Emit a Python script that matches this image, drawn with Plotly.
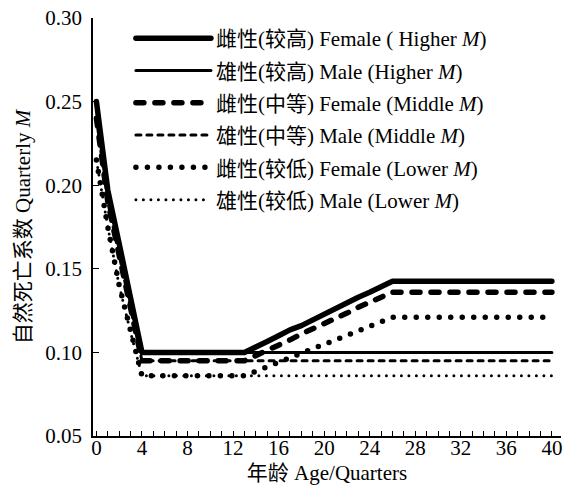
import plotly.graph_objects as go

# ---- data ----
ages_fh = [0, 1, 2, 3, 4, 13, 14, 15, 16, 17, 18, 19, 20, 21, 22, 23, 24, 25, 26, 40]
female_higher = [0.250, 0.197, 0.165, 0.132, 0.100, 0.100, 0.103, 0.1065, 0.110, 0.1135,
                 0.116, 0.1195, 0.123, 0.126, 0.1295, 0.133, 0.136, 0.139, 0.1425, 0.1425]

ages_mh = [0, 1, 2, 3, 4, 40]
male_higher = [0.250, 0.197, 0.165, 0.132, 0.100, 0.100]

ages_fm = [0, 1, 2, 3, 4, 13, 14, 15, 16, 17, 18, 19, 20, 21, 22, 23, 24, 25, 26, 40]
female_middle = [0.240, 0.190, 0.158, 0.127, 0.095, 0.095, 0.098, 0.101, 0.1045, 0.1075,
                 0.111, 0.114, 0.117, 0.1205, 0.1235, 0.127, 0.130, 0.133, 0.136, 0.136]

ages_mm = [0, 1, 2, 3, 4, 40]
male_middle = [0.240, 0.190, 0.158, 0.127, 0.095, 0.095]

ages_fl = [0, 1, 2, 3, 4, 13, 14, 15, 16, 17, 18, 19, 20, 21, 22, 23, 24, 25, 26, 40]
female_lower = [0.215, 0.175, 0.140, 0.112, 0.086, 0.086, 0.0887, 0.0914, 0.0941, 0.0968,
                0.0995, 0.1022, 0.1049, 0.1076, 0.1103, 0.113, 0.1157, 0.1184, 0.121, 0.121]

ages_ml = [0, 1, 2, 3, 4, 40]
male_lower = [0.215, 0.175, 0.140, 0.112, 0.086, 0.086]

names = [
    "雌性(较高) Female ( Higher <i>M</i>)",
    "雄性(较高) Male (Higher <i>M</i>)",
    "雌性(中等) Female (Middle <i>M</i>)",
    "雄性(中等) Male (Middle <i>M</i>)",
    "雌性(较低) Female (Lower <i>M</i>)",
    "雄性(较低) Male (Lower <i>M</i>)",
]

x_tickvals = [0, 4, 8, 12, 16, 20, 24, 28, 32, 36, 40]
y_tickvals = [0.05, 0.10, 0.15, 0.20, 0.25, 0.30]

FONT = "Liberation Serif, Noto Sans CJK SC, serif"

series = [
    (ages_fh, female_higher, 5.5, "solid"),
    (ages_mh, male_higher, 3, "solid"),
    (ages_fm, female_middle, 5.5, "8px,11px"),
    (ages_mm, male_middle, 3, "5px,6px"),
    (ages_fl, female_lower, 5.5, "0px,11.5px"),
    (ages_ml, male_lower, 3, "0px,7.5px"),
]

fig = go.Figure()
for i, ((xs, ys, w, d), nm) in enumerate(zip(series, names)):
    fig.add_trace(go.Scatter(
        x=xs, y=ys, mode="lines", name=nm, legendgroup=f"g{i}",
        line=dict(color="black", width=w, dash=d),
    ))

fig.update_layout(
    width=573, height=490,
    margin=dict(l=93, r=12, t=18, b=54),
    paper_bgcolor="white", plot_bgcolor="white",
    font=dict(family=FONT, size=21, color="black"),
    showlegend=True,
    legend=dict(
        x=0.081, y=1.0, xanchor="left", yanchor="top",
        bgcolor="rgba(0,0,0,0)", font=dict(family=FONT, size=21),
        tracegroupgap=2, itemwidth=75,
    ),
    xaxis=dict(
        range=[-0.3, 40.8], tickvals=x_tickvals, automargin=False,
        ticks="inside", ticklen=5, tickwidth=1.2, tickcolor="black",
        minor=dict(dtick=1, tick0=0, ticks="inside", ticklen=5, tickwidth=1.2, tickcolor="black"),
        showline=True, linecolor="black", linewidth=1.5, showgrid=False, zeroline=False,
        title=dict(text="年龄 Age/Quarters", font=dict(family=FONT, size=21), standoff=6),
        tickfont=dict(family=FONT, size=21), ticklabelstandoff=-8, ticklabeloverflow="allow",
    ),
    yaxis=dict(
        range=[0.05, 0.30], tickvals=y_tickvals, tickformat=".2f", automargin=False,
        ticks="inside", ticklen=6, tickwidth=1.2, tickcolor="black",
        showline=True, linecolor="black", linewidth=1.5, showgrid=False, zeroline=False,
        title=dict(text="自然死亡系数 Quarterly <i>M</i>", font=dict(family=FONT, size=21), standoff=9),
        tickfont=dict(family=FONT, size=21), ticklabelstandoff=5, ticklabeloverflow="allow",
    ),
)

post = """
document.body.style.margin = '0';
document.body.style.padding = '0';
var gd = document.getElementById('{plot_id}');
function rc(){ gd.querySelectorAll('path.js-line, .legendlines path').forEach(function(p){ p.style.strokeLinecap='round'; p.style.strokeLinejoin='round'; }); }
rc(); gd.on('plotly_afterplot', rc);
"""
fig.write_html("out.html", post_script=post, config={"displayModeBar": False})
